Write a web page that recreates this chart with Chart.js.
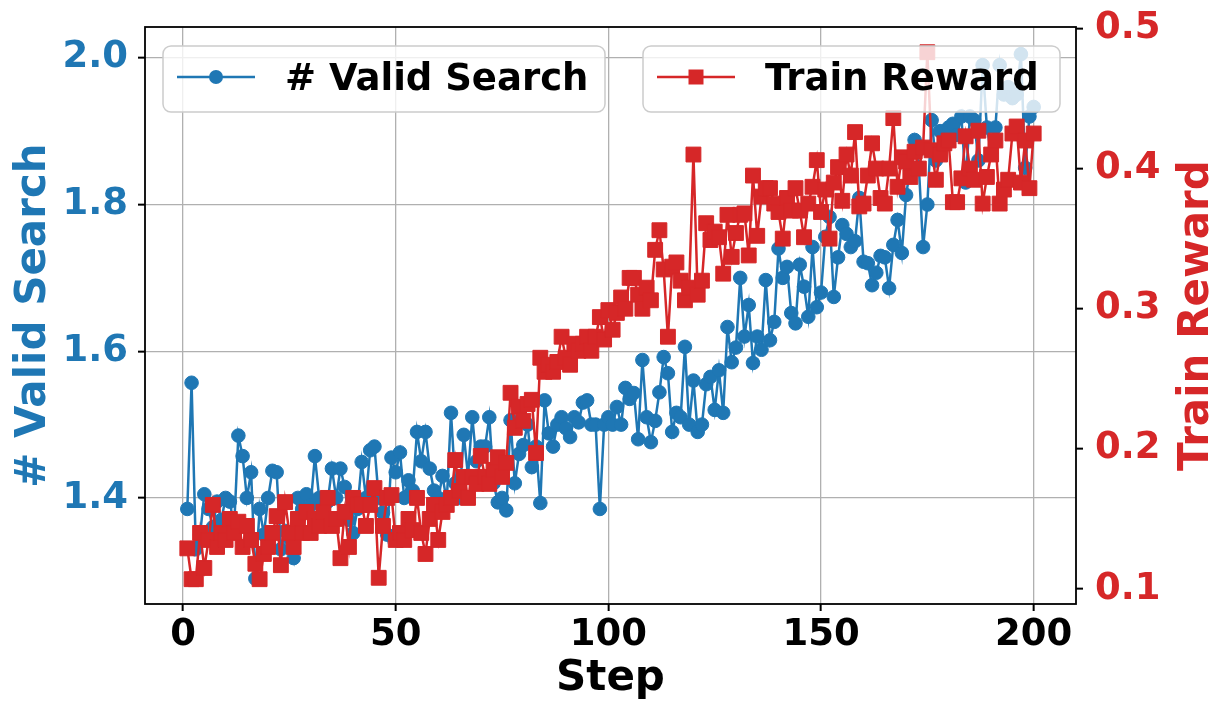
<!DOCTYPE html>
<html>
<head>
<meta charset="utf-8">
<script src="https://cdn.jsdelivr.net/npm/chart.js@4.4.1/dist/chart.umd.min.js"></script>
<style>
  html, body { margin: 0; padding: 0; background: #fff; }
  #wrap { width: 1220px; height: 720px; }
</style>
</head>
<body>
<div id="wrap"><canvas id="chart"></canvas></div>
<script>
// Шаги обучения (ось X)
const steps = Array.from({ length: 200 }, (_, i) => i + 1);

// # Valid Search (левая ось)
const validSearch = [
  1.385, 1.557, 1.33, 1.35, 1.405, 1.385, 1.36, 1.395, 1.37, 1.40,
  1.395, 1.36, 1.485, 1.457, 1.40, 1.435, 1.29, 1.385, 1.35, 1.40,
  1.437, 1.435, 1.33, 1.355, 1.345, 1.318, 1.40, 1.385, 1.405, 1.39,
  1.457, 1.40, 1.385, 1.395, 1.44, 1.40, 1.44, 1.415, 1.37, 1.352,
  1.385, 1.449, 1.40, 1.465, 1.47, 1.40, 1.38, 1.35, 1.455, 1.435,
  1.462, 1.40, 1.424, 1.41, 1.49, 1.45, 1.49, 1.44, 1.41, 1.40,
  1.43, 1.395, 1.516, 1.42, 1.40, 1.486, 1.43, 1.51, 1.45, 1.47,
  1.47, 1.51, 1.42, 1.394, 1.40, 1.383, 1.506, 1.42, 1.46, 1.472,
  1.50, 1.442, 1.47, 1.393, 1.533, 1.488, 1.47, 1.50, 1.51, 1.495,
  1.483, 1.51, 1.503, 1.53, 1.533, 1.50, 1.50, 1.385, 1.50, 1.51,
  1.50, 1.524, 1.50, 1.55, 1.535, 1.543, 1.48, 1.588, 1.51, 1.476,
  1.505, 1.544, 1.592, 1.57, 1.49, 1.516, 1.51, 1.606, 1.50, 1.56,
  1.49, 1.50, 1.555, 1.565, 1.52, 1.574, 1.516, 1.633, 1.585, 1.605,
  1.70, 1.62, 1.663, 1.584, 1.62, 1.602, 1.697, 1.615, 1.64, 1.74,
  1.70, 1.715, 1.652, 1.638, 1.718, 1.688, 1.647, 1.742, 1.66, 1.68,
  1.756, 1.783, 1.674, 1.728, 1.772, 1.76, 1.742, 1.75, 1.809, 1.722,
  1.72, 1.69, 1.707, 1.73, 1.728, 1.686, 1.745, 1.779, 1.734, 1.813,
  1.85, 1.888, 1.851, 1.742, 1.80, 1.915, 1.86, 1.90, 1.89, 1.905,
  1.91, 1.895, 1.92, 1.83, 1.92, 1.915, 1.86, 1.99, 1.905, 1.87,
  1.905, 1.99, 1.95, 1.96, 1.945, 1.95, 2.005, 1.85, 1.92, 1.933
];

// Train Reward (правая ось)
const trainReward = [
  0.129, 0.107, 0.107, 0.14, 0.115, 0.135, 0.160, 0.13, 0.14, 0.135,
  0.15, 0.14, 0.148, 0.13, 0.145, 0.135, 0.118, 0.107, 0.125, 0.13,
  0.14, 0.152, 0.117, 0.162, 0.14, 0.13, 0.15, 0.14, 0.155, 0.14,
  0.15, 0.145, 0.155, 0.165, 0.145, 0.15, 0.122, 0.155, 0.13, 0.165,
  0.16, 0.16, 0.145, 0.16, 0.172, 0.108, 0.145, 0.165, 0.167, 0.135,
  0.14, 0.135, 0.15, 0.142, 0.165, 0.14, 0.125, 0.15, 0.16, 0.135,
  0.155, 0.16, 0.165, 0.192, 0.17, 0.18, 0.165, 0.18, 0.175, 0.195,
  0.18, 0.175, 0.185, 0.194, 0.18, 0.19, 0.24, 0.215, 0.23, 0.22,
  0.232, 0.235, 0.197, 0.265, 0.255, 0.26, 0.255, 0.262, 0.28, 0.265,
  0.26, 0.275, 0.27, 0.275, 0.28, 0.27, 0.28, 0.294, 0.278, 0.299,
  0.285, 0.297, 0.308, 0.30, 0.322, 0.322, 0.31, 0.30, 0.315, 0.306,
  0.342, 0.356, 0.328, 0.28, 0.33, 0.333, 0.32, 0.306, 0.315, 0.41,
  0.31, 0.32, 0.361, 0.349, 0.355, 0.351, 0.325, 0.367, 0.337, 0.354,
  0.367, 0.368, 0.338, 0.395, 0.352, 0.38, 0.386, 0.386, 0.375, 0.369,
  0.35, 0.379, 0.37, 0.386, 0.37, 0.351, 0.375, 0.387, 0.406, 0.369,
  0.385, 0.35, 0.39, 0.401, 0.377, 0.41, 0.395, 0.426, 0.373, 0.375,
  0.395, 0.418, 0.40, 0.379, 0.375, 0.40, 0.436, 0.387, 0.408, 0.405,
  0.394, 0.412, 0.40, 0.415, 0.483, 0.413, 0.392, 0.41, 0.418, 0.42,
  0.376, 0.376, 0.393, 0.423, 0.40, 0.392, 0.427, 0.375, 0.394, 0.41,
  0.42, 0.375, 0.385, 0.392, 0.425, 0.43, 0.39, 0.42, 0.386, 0.425
];

// Подписи делений
const xTicks = [0, 50, 100, 150, 200];
const leftTicks = [1.4, 1.6, 1.8, 2.0];
const rightTicks = [0.1, 0.2, 0.3, 0.4, 0.5];

const BLUE = '#1f77b4';
const RED = '#d62728';
const FONT = '"DejaVu Sans", sans-serif';

Chart.defaults.font.family = FONT;

// Рамка, легенды и подпись правой оси
const extrasPlugin = {
    id: 'extras',
    afterDatasetsDraw(chart) {
        const { ctx, chartArea: a } = chart;
        ctx.save();
        ctx.strokeStyle = '#000';
        ctx.lineWidth = 1.8;
        ctx.strokeRect(a.left, a.top, a.right - a.left, a.bottom - a.top);
        ctx.restore();
    },
    afterDraw(chart) {
        const { ctx, chartArea: a } = chart;
        drawLegend(ctx, 163, 46, 442, 66, '# Valid Search', BLUE, 'circle');
        drawLegend(ctx, 643, 46, 417, 66, 'Train Reward', RED, 'rect');

        ctx.save();
        ctx.font = 'bold 42px ' + FONT;
        ctx.fillStyle = RED;
        ctx.translate(1197, (a.top + a.bottom) / 2);
        ctx.rotate(-Math.PI / 2);
        ctx.textAlign = 'center';
        ctx.textBaseline = 'middle';
        ctx.fillText('Train Reward', 0, 0);
        ctx.restore();
    }
};

function drawLegend(ctx, x, y, w, h, label, color, style) {
    ctx.save();
    ctx.beginPath();
    ctx.roundRect(x, y, w, h, 8);
    ctx.fillStyle = 'rgba(255,255,255,0.8)';
    ctx.fill();
    ctx.strokeStyle = '#cccccc';
    ctx.lineWidth = 1.5;
    ctx.stroke();

    const cy = y + h / 2 - 2;
    ctx.strokeStyle = color;
    ctx.lineWidth = 2.5;
    ctx.beginPath();
    ctx.moveTo(x + 14, cy);
    ctx.lineTo(x + 92, cy);
    ctx.stroke();

    ctx.fillStyle = color;
    ctx.beginPath();
    if (style === 'circle') {
        ctx.arc(x + 53, cy, 7, 0, Math.PI * 2);
    } else {
        ctx.rect(x + 53 - 7.5, cy - 7.5, 15, 15);
    }
    ctx.fill();

    ctx.fillStyle = '#000';
    ctx.font = 'bold 37px ' + FONT;
    ctx.textAlign = 'left';
    ctx.textBaseline = 'alphabetic';
    ctx.fillText(label, x + 122, y + 44);
    ctx.restore();
}

const gridCommon = {
    color: '#b0b0b0',
    lineWidth: 1.3,
    tickColor: '#000',
    tickLength: 7,
    tickWidth: 2
};

// Фиксированные размеры осей, без дополнительных отступов под подписи
function fixSize(w, h) {
    return s => {
        if (w !== null) s.width = w;
        if (h !== null) s.height = h;
        s.paddingTop = 0;
        s.paddingBottom = 0;
        s.paddingLeft = 0;
        s.paddingRight = 0;
    };
}

document.addEventListener('DOMContentLoaded', function() {
    const ctx = document.getElementById('chart').getContext('2d');
    new Chart(ctx, {
        type: 'line',
        data: {
            datasets: [{
                label: '# Valid Search',
                data: steps.map((s, i) => ({ x: s, y: validSearch[i] })),
                yAxisID: 'y',
                borderColor: BLUE,
                backgroundColor: BLUE,
                borderWidth: 2.5,
                pointStyle: 'circle',
                pointRadius: 6.8,
                pointBorderWidth: 1,
                tension: 0,
                order: 2
            }, {
                label: 'Train Reward',
                data: steps.map((s, i) => ({ x: s, y: trainReward[i] })),
                yAxisID: 'y2',
                borderColor: RED,
                backgroundColor: RED,
                borderWidth: 2.5,
                pointStyle: 'rect',
                pointRadius: 10.5,
                pointBorderWidth: 1,
                tension: 0,
                order: 1
            }]
        },
        options: {
            responsive: true,
            maintainAspectRatio: false,
            animation: false,
            events: [],
            layout: { padding: { top: 27, left: 0, right: 0, bottom: 0 } },
            plugins: {
                legend: { display: false },
                tooltip: { enabled: false }
            },
            scales: {
                x: {
                    type: 'linear',
                    min: -8.95,
                    max: 209.95,
                    afterBuildTicks: s => { s.ticks = xTicks.map(v => ({ value: v })); },
                    afterFit: fixSize(null, 116),
                    border: { display: false },
                    grid: gridCommon,
                    ticks: {
                        color: '#000',
                        font: { size: 37, weight: 'bold' },
                        padding: 2,
                        maxRotation: 0,
                        autoSkip: false
                    },
                    title: {
                        display: true,
                        text: 'Step',
                        color: '#000',
                        font: { size: 42, weight: 'bold' },
                        padding: { top: 0, bottom: 16 }
                    }
                },
                y: {
                    position: 'left',
                    min: 1.2554,
                    max: 2.042,
                    afterBuildTicks: s => { s.ticks = leftTicks.map(v => ({ value: v })); },
                    afterFit: fixSize(145, null),
                    border: { display: false },
                    grid: gridCommon,
                    ticks: {
                        color: BLUE,
                        font: { size: 37, weight: 'bold' },
                        padding: 10,
                        callback: v => v.toFixed(1)
                    },
                    title: {
                        display: true,
                        text: '# Valid Search',
                        color: BLUE,
                        font: { size: 42, weight: 'bold' },
                        padding: { top: 9, bottom: 0 }
                    }
                },
                y2: {
                    position: 'right',
                    min: 0.0893,
                    max: 0.501,
                    afterBuildTicks: s => { s.ticks = rightTicks.map(v => ({ value: v })); },
                    afterFit: fixSize(144, null),
                    border: { display: false },
                    grid: Object.assign({}, gridCommon, { drawOnChartArea: false }),
                    ticks: {
                        color: RED,
                        font: { size: 37, weight: 'bold' },
                        padding: 12,
                        callback: v => v.toFixed(1)
                    }
                }
            }
        },
        plugins: [extrasPlugin]
    });
});
</script>
</body>
</html>
